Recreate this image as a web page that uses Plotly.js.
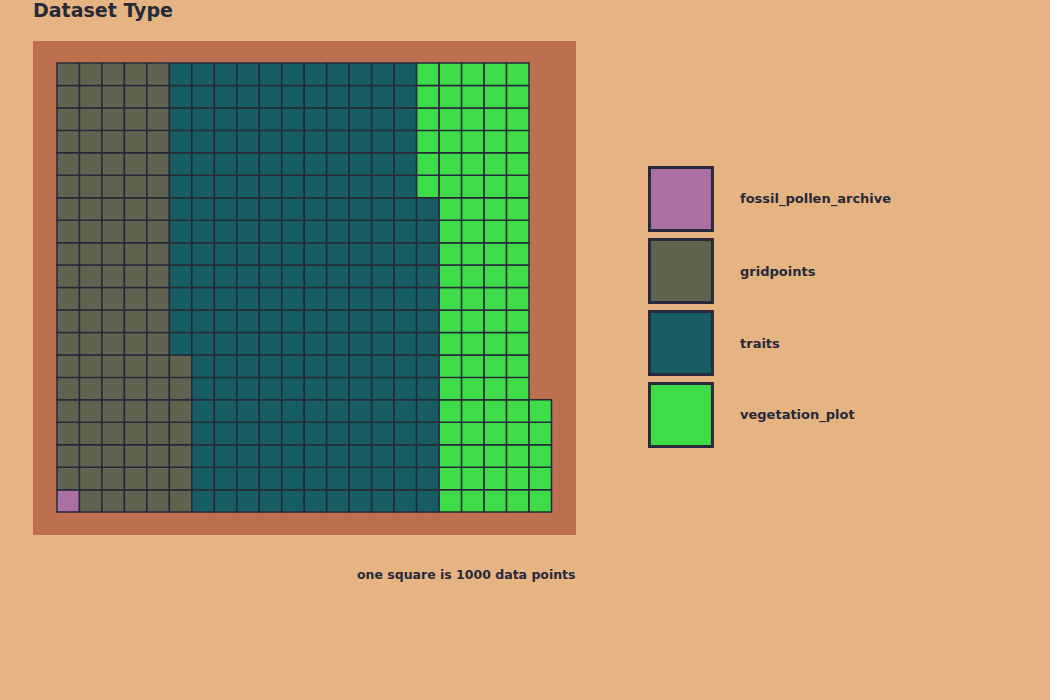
<!DOCTYPE html>
<html><head><meta charset="utf-8">
<script src="https://cdn.plot.ly/plotly-3.0.1.min.js"></script>
<style>html,body{margin:0;padding:0;background:#E6B383;}</style>
</head><body><div id="chart" style="width:1050px;height:700px;"></div>
<script>
// ---- data ----
const categories = ['fossil_pollen_archive', 'gridpoints', 'traits', 'vegetation_plot'];
const counts = [1, 106, 227, 91];           // squares (1 square = 1000 data points)
const colors = ['#AA6FA3', '#606350', '#165E63', '#3DDC48'];
const nRows = 20;
const titleText = 'Dataset Type';
const captionText = 'one square is 1000 data points';

// ---- layout geometry ----
const W = 1050, H = 700;
const plotL = 33, plotR = 576, plotT = 41, plotB = 535;
const xRange = [-1.567, 22.59];
const yRange = [-1.52, 20.48];
const cellPx = (plotR - plotL) / (xRange[1] - xRange[0]);
const ink = '#262A38';
const FONT = '"DejaVu Sans", Verdana, sans-serif';

// waffle fill: column-major, bottom to top
const traces = [];
let k = 0;
categories.forEach((c, i) => {
  const xs = [], ys = [];
  for (let j = 0; j < counts[i]; j++, k++) {
    xs.push(Math.floor(k / nRows));
    ys.push(k % nRows);
  }
  traces.push({
    type: 'scatter', mode: 'markers', x: xs, y: ys, name: c,
    xaxis: 'x', yaxis: 'y', showlegend: false, hoverinfo: 'skip',
    marker: {symbol: 'square', size: cellPx, color: colors[i], line: {color: ink, width: 1.5}}
  });
});

// custom legend in a second subplot
traces.push({
  type: 'scatter', mode: 'markers', xaxis: 'x2', yaxis: 'y2', showlegend: false, hoverinfo: 'skip',
  x: categories.map(() => 0.084), y: categories.map((c, i) => i),
  marker: {symbol: 'square', size: 63, color: colors, line: {color: ink, width: 3}}
});

const legendLabels = categories.map((c, i) => ({
  text: c, xref: 'x2', yref: 'y2', x: 0.235, y: i, xanchor: 'left', yanchor: 'middle',
  xshift: -2, showarrow: false, font: {family: FONT, size: 13, color: ink, weight: 'bold'}
}));

const layout = {
  width: W, height: H,
  margin: {l: 0, r: 0, t: 0, b: 0},
  paper_bgcolor: '#E6B383', plot_bgcolor: 'rgba(0,0,0,0)',
  title: {text: titleText, x: plotL / W, xanchor: 'left', y: 1 - 10 / H, yanchor: 'middle',
          font: {family: FONT, size: 19, color: ink, weight: 'bold'}},
  xaxis: {domain: [plotL / W, plotR / W], range: xRange, visible: false, fixedrange: true},
  yaxis: {domain: [1 - plotB / H, 1 - plotT / H], range: yRange, visible: false, fixedrange: true},
  xaxis2: {domain: [648 / W, 1040 / W], range: [0, 1], visible: false, anchor: 'y2'},
  yaxis2: {domain: [1 - 451 / H, 1 - 163 / H], range: [3.5, -0.5], visible: false, anchor: 'x2'},
  shapes: [{type: 'rect', xref: 'x domain', yref: 'y domain', x0: 0, x1: 1, y0: 0, y1: 1,
            fillcolor: '#BC7050', line: {width: 0}, layer: 'below'}],
  annotations: legendLabels.concat([{text: captionText, xref: 'paper', yref: 'paper', x: plotR / W, xanchor: 'right',
                 xshift: 2, y: 1 - 574 / H, yanchor: 'middle', showarrow: false,
                 font: {family: FONT, size: 12.5, color: ink, weight: 'bold'}}])
};

Plotly.newPlot('chart', traces, layout, {displayModeBar: false, staticPlot: true});
</script>
</body></html>
